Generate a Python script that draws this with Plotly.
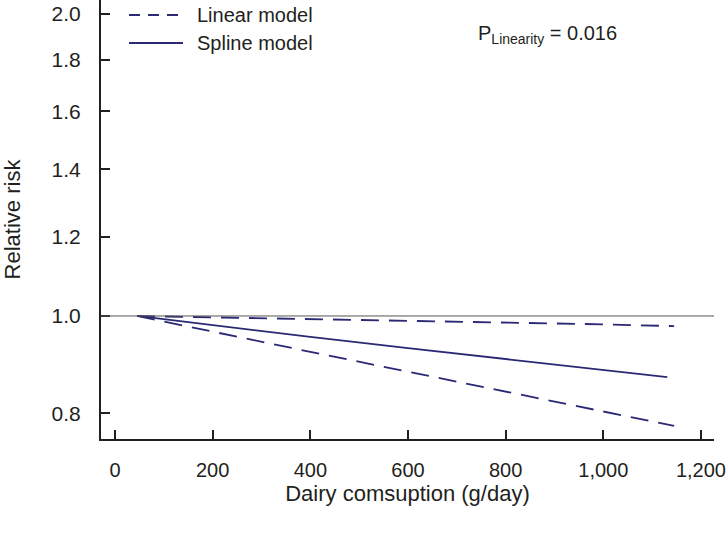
import plotly.graph_objects as go

# Data
dose = [45, 200, 400, 600, 800, 1000, 1131]
rr_spline = [1.0, 0.979, 0.953, 0.929, 0.906, 0.884, 0.869]

dose_ci = [45, 200, 400, 600, 800, 1000, 1145]
rr_linear_upper = [1.0, 0.997, 0.993, 0.989, 0.985, 0.981, 0.977]
rr_linear_lower = [1.0, 0.964, 0.921, 0.880, 0.841, 0.804, 0.777]

x_ticks = [0, 200, 400, 600, 800, 1000, 1200]
x_ticktext = ["0", "200", "400", "600", "800", "1,000", "1,200"]
y_ticks = [0.8, 1.0, 1.2, 1.4, 1.6, 1.8, 2.0]
y_ticktext = ["0.8", "1.0", "1.2", "1.4", "1.6", "1.8", "2.0"]

p_linearity = "0.016"

NAVY = "#2b2874"
AXIS = "#231f20"
FONT = "Liberation Sans, Arial, sans-serif"

fig = go.Figure()

fig.add_trace(go.Scatter(x=dose_ci, y=rr_linear_upper, mode="lines",
                         line=dict(color=NAVY, width=1.8, dash="18px,10px"),
                         name="Linear model", showlegend=False))
fig.add_trace(go.Scatter(x=dose_ci, y=rr_linear_lower, mode="lines",
                         line=dict(color=NAVY, width=1.8, dash="18px,10px"),
                         name="Linear model", showlegend=False))
fig.add_trace(go.Scatter(x=dose, y=rr_spline, mode="lines",
                         line=dict(color=NAVY, width=1.8),
                         name="Spline model", showlegend=False))

# reference line at RR = 1
fig.add_hline(y=1.0, line=dict(color="#555555", width=1))

# manual legend
fig.add_shape(type="line", xref="paper", yref="paper",
              x0=(129 - 101) / 613, x1=(183 - 101) / 613,
              y0=1 - 15 / 439, y1=1 - 15 / 439,
              line=dict(color=NAVY, width=1.8, dash="11px,8px"))
fig.add_shape(type="line", xref="paper", yref="paper",
              x0=(129 - 101) / 613, x1=(183 - 101) / 613,
              y0=1 - 43 / 439, y1=1 - 43 / 439,
              line=dict(color=NAVY, width=1.8))
fig.add_annotation(xref="paper", yref="paper", x=(195 - 101) / 613, y=1 - 15 / 439,
                   xanchor="left", yanchor="middle", showarrow=False,
                   text="Linear model", font=dict(size=20, color=AXIS, family=FONT))
fig.add_annotation(xref="paper", yref="paper", x=(195 - 101) / 613, y=1 - 43 / 439,
                   xanchor="left", yanchor="middle", showarrow=False,
                   text="Spline model", font=dict(size=20, color=AXIS, family=FONT))

fig.add_annotation(xref="paper", yref="paper", x=(476 - 101) / 613, y=1 - 34 / 439,
                   xanchor="left", yanchor="middle", showarrow=False,
                   text="P<sub>Linearity</sub> = " + p_linearity,
                   font=dict(size=20, color=AXIS, family=FONT))

fig.update_xaxes(range=[-28.7, 1226.7], tickvals=x_ticks, ticktext=x_ticktext,
                 ticks="inside", ticklen=9, tickwidth=1.5, tickcolor=AXIS,
                 showline=True, linecolor=AXIS, linewidth=2, showgrid=False,
                 zeroline=False, ticklabelstandoff=12, ticklabeloverflow="allow",
                 automargin=False,
                 tickfont=dict(size=20, color=AXIS, family=FONT),
                 title=dict(text="Dairy comsuption (g/day)", standoff=1,
                            font=dict(size=22, color=AXIS, family=FONT)))
fig.update_yaxes(type="log", range=[-0.1226, 0.3149], tickvals=y_ticks,
                 ticktext=y_ticktext,
                 ticks="inside", ticklen=9, tickwidth=1.5, tickcolor=AXIS,
                 showline=True, linecolor=AXIS, linewidth=2, showgrid=False,
                 zeroline=False, ticklabelstandoff=14, ticklabeloverflow="allow",
                 automargin=False,
                 tickfont=dict(size=21, color=AXIS, family=FONT),
                 title=dict(text="Relative risk", standoff=26,
                            font=dict(size=22, color=AXIS, family=FONT)))

fig.update_layout(width=727, height=533, autosize=False,
                  margin=dict(l=101, r=13, t=0, b=94, autoexpand=False),
                  paper_bgcolor="white", plot_bgcolor="white",
                  font=dict(family=FONT, color=AXIS))

fig.write_html("out.html", config={"displayModeBar": False},
               post_script="document.body.style.margin='0';document.body.style.overflow='hidden';")
